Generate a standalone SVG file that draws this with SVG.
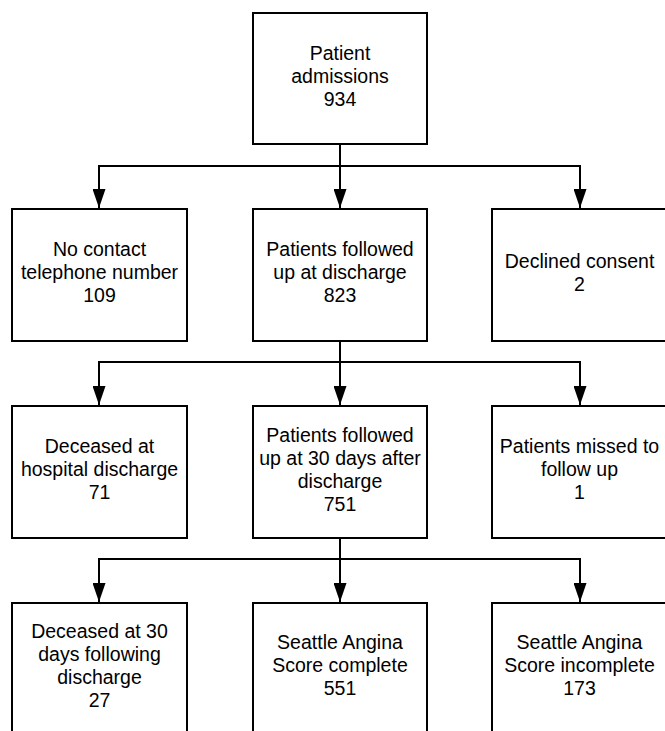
<svg xmlns="http://www.w3.org/2000/svg" width="665" height="731" viewBox="0 0 665 731">
<style>
.box{fill:#fff;stroke:#000;stroke-width:2}
.t{font-family:"Liberation Sans",Arial,sans-serif;font-size:19.5px;fill:#000;text-anchor:middle}
.c{fill:none;stroke:#000;stroke-width:2}
</style>
<defs>
<marker id="ah" markerUnits="userSpaceOnUse" markerWidth="19" markerHeight="13" viewBox="0 -6.5 19 13" refX="19" refY="0" orient="auto">
<path d="M0,-6.5 L19,0 L0,6.5 z" fill="#000"/>
</marker>
</defs>
<rect width="665" height="731" fill="#fff"/>
<g id="connectors">
<path class="c" d="M340,144 V166"/>
<path class="c" d="M99,166 H580"/>
<path class="c" d="M99,165 V208" marker-end="url(#ah)"/>
<path class="c" d="M340,165 V208" marker-end="url(#ah)"/>
<path class="c" d="M580,165 V208" marker-end="url(#ah)"/>
<path class="c" d="M340,341 V362"/>
<path class="c" d="M99,362 H580"/>
<path class="c" d="M99,361 V405" marker-end="url(#ah)"/>
<path class="c" d="M340,361 V405" marker-end="url(#ah)"/>
<path class="c" d="M580,361 V405" marker-end="url(#ah)"/>
<path class="c" d="M340,538 V559"/>
<path class="c" d="M99,559 H580"/>
<path class="c" d="M99,558 V602" marker-end="url(#ah)"/>
<path class="c" d="M340,558 V602" marker-end="url(#ah)"/>
<path class="c" d="M580,558 V602" marker-end="url(#ah)"/>
</g>
<g id="n-admissions">
<rect class="box" x="253" y="13" width="174" height="131"/>
<text class="t"><tspan x="340" y="60">Patient</tspan><tspan x="340" y="83">admissions</tspan><tspan x="340" y="106">934</tspan></text>
</g>
<g id="n-nocontact">
<rect class="box" x="12" y="209" width="175" height="132"/>
<text class="t"><tspan x="99.5" y="256">No contact</tspan><tspan x="99.5" y="279">telephone number</tspan><tspan x="99.5" y="302">109</tspan></text>
</g>
<g id="n-discharge">
<rect class="box" x="253" y="209" width="174" height="132"/>
<text class="t"><tspan x="340" y="256">Patients followed</tspan><tspan x="340" y="279">up at discharge</tspan><tspan x="340" y="302">823</tspan></text>
</g>
<g id="n-declined">
<rect class="box" x="492" y="209" width="175" height="132"/>
<text class="t"><tspan x="579.5" y="267.5">Declined consent</tspan><tspan x="579.5" y="290.5">2</tspan></text>
</g>
<g id="n-deceased-hosp">
<rect class="box" x="12" y="406" width="175" height="132"/>
<text class="t"><tspan x="99.5" y="453">Deceased at</tspan><tspan x="99.5" y="476">hospital discharge</tspan><tspan x="99.5" y="499">71</tspan></text>
</g>
<g id="n-30days">
<rect class="box" x="253" y="406" width="174" height="132"/>
<text class="t"><tspan x="340" y="441.5">Patients followed</tspan><tspan x="340" y="464.5">up at 30 days after</tspan><tspan x="340" y="487.5">discharge</tspan><tspan x="340" y="510.5">751</tspan></text>
</g>
<g id="n-missed">
<rect class="box" x="492" y="406" width="175" height="132"/>
<text class="t"><tspan x="579.5" y="453">Patients missed to</tspan><tspan x="579.5" y="476">follow up</tspan><tspan x="579.5" y="499">1</tspan></text>
</g>
<g id="n-deceased-30">
<rect class="box" x="12" y="603" width="175" height="132"/>
<text class="t"><tspan x="99.5" y="637.5">Deceased at 30</tspan><tspan x="99.5" y="660.5">days following</tspan><tspan x="99.5" y="683.5">discharge</tspan><tspan x="99.5" y="706.5">27</tspan></text>
</g>
<g id="n-sas-complete">
<rect class="box" x="253" y="603" width="174" height="132"/>
<text class="t"><tspan x="340" y="649">Seattle Angina</tspan><tspan x="340" y="672">Score complete</tspan><tspan x="340" y="695">551</tspan></text>
</g>
<g id="n-sas-incomplete">
<rect class="box" x="492" y="603" width="175" height="132"/>
<text class="t"><tspan x="579.5" y="649">Seattle Angina</tspan><tspan x="579.5" y="672">Score incomplete</tspan><tspan x="579.5" y="695">173</tspan></text>
</g>
</svg>
